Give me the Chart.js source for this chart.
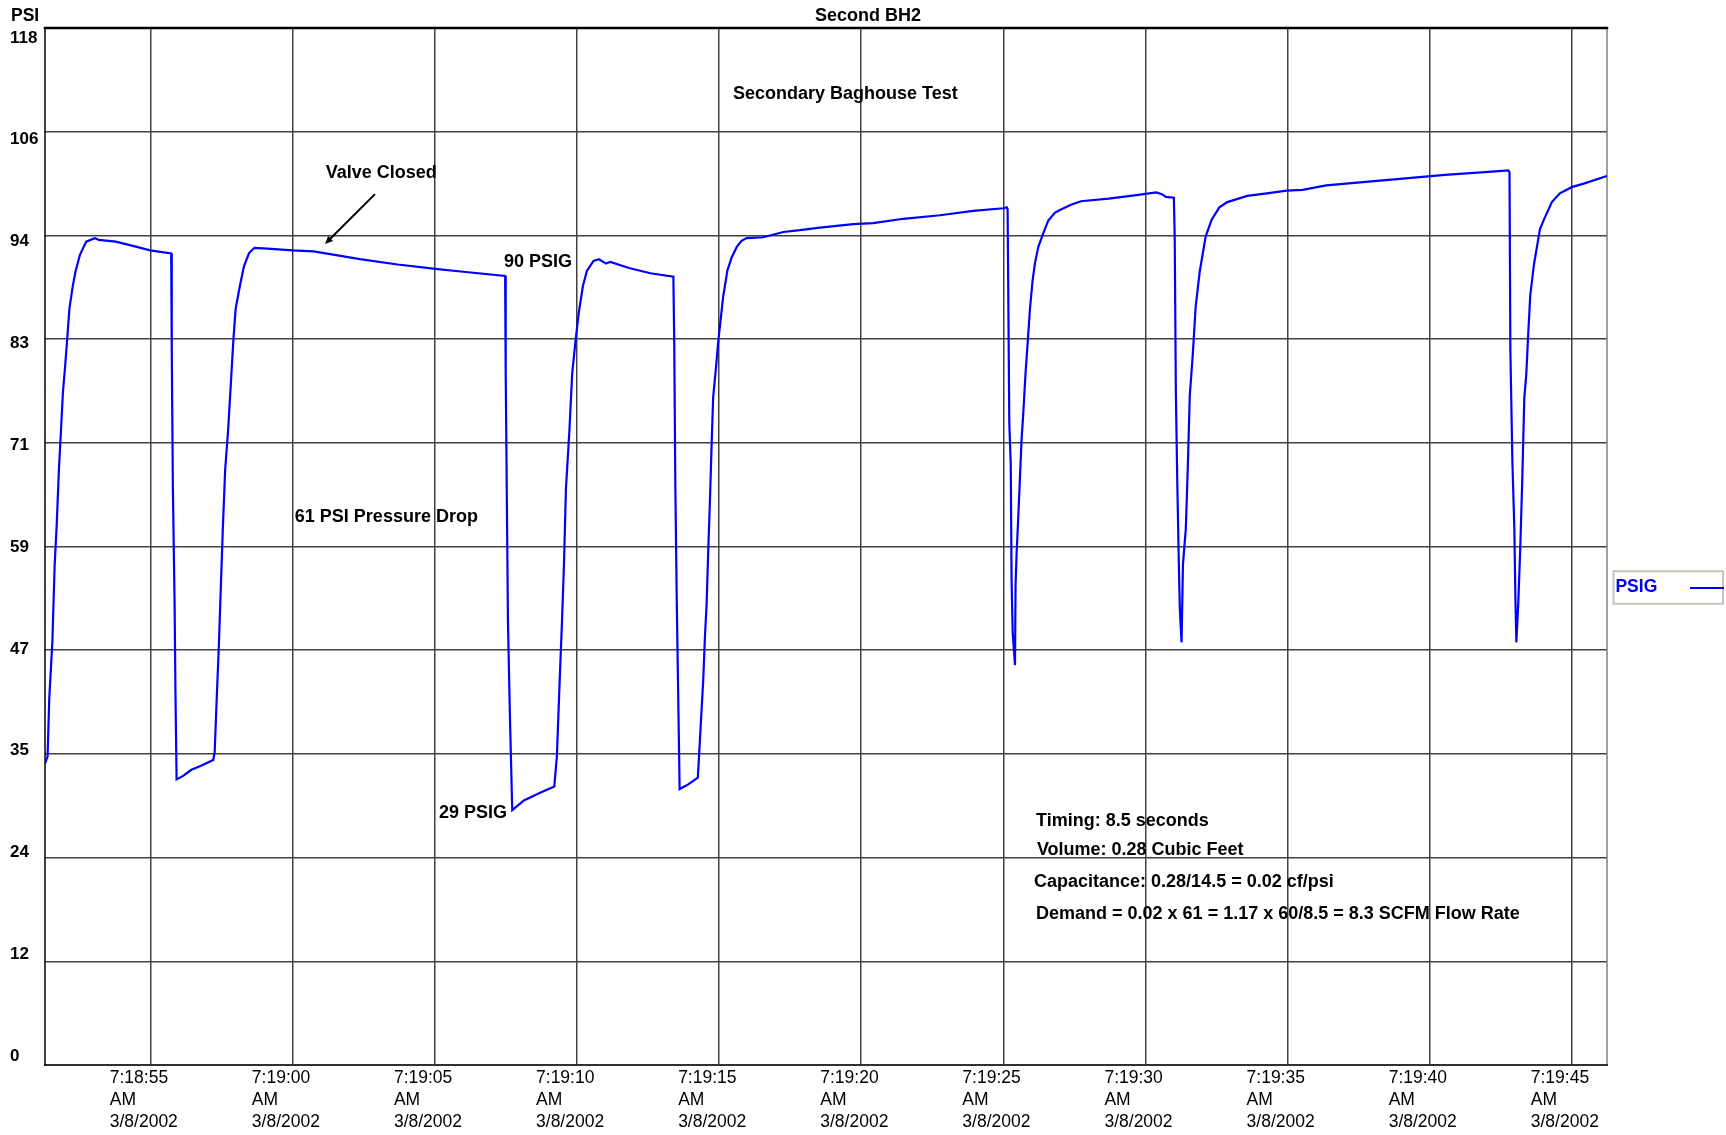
<!DOCTYPE html>
<html>
<head>
<meta charset="utf-8">
<script src="https://cdn.jsdelivr.net/npm/chart.js@4/dist/chart.umd.min.js"></script>
<style>
  html, body { margin: 0; padding: 0; background: #ffffff; }
  #wrap { width: 1726px; height: 1135px; }
</style>
</head>
<body>
<div id="wrap"><canvas id="c" width="1726" height="1135"></canvas></div>
<script>
// ---------------- data (seconds after 7:18:00 AM, 3/8/2002) ----------------
const seriesName = 'PSIG';
const timeSec = [
  51.28, 51.37, 51.43, 51.54, 51.62, 51.69, 51.77, 51.84, 51.91, 51.99, 52.07, 52.14, 52.26, 52.36, 52.51, 52.73,
  53.03, 53.17, 53.77, 54.51, 54.98, 55.72, 55.74, 55.78, 55.84, 55.87, 55.91, 56.14, 56.43, 56.73, 57.20, 57.25,
  57.32, 57.40, 57.47, 57.54, 57.62, 57.72, 57.84, 57.91, 57.99, 58.14, 58.28, 58.46, 58.65, 59.10, 59.99, 60.73,
  61.47, 62.36, 63.69, 65.02, 65.91, 67.47, 67.49, 67.57, 67.64, 67.72, 68.13, 68.72, 69.20, 69.29, 69.39, 69.47,
  69.54, 69.61, 69.73, 69.83, 69.94, 70.06, 70.21, 70.35, 70.58, 70.77, 71.02, 71.17, 71.83, 72.58, 73.39, 73.42,
  73.46, 73.51, 73.61, 73.90, 74.25, 74.44, 74.50, 74.56, 74.62, 74.68, 74.74, 74.79, 74.89, 74.97, 75.05, 75.14,
  75.29, 75.44, 75.62, 75.79, 75.97, 76.55, 77.26, 77.84, 78.55, 79.72, 80.42, 81.48, 82.77, 83.94, 85.00, 85.12,
  85.15, 85.17, 85.21, 85.26, 85.29, 85.33, 85.41, 85.43, 85.47, 85.52, 85.58, 85.64, 85.70, 85.78, 85.86, 85.94,
  86.03, 86.11, 86.23, 86.40, 86.58, 86.82, 86.99, 87.38, 87.73, 88.71, 89.68, 90.38, 90.58, 90.72, 91.00, 91.03,
  91.07, 91.12, 91.17, 91.21, 91.27, 91.32, 91.42, 91.49, 91.56, 91.66, 91.77, 91.91, 92.12, 92.33, 92.60, 92.88,
  93.58, 94.27, 94.97, 95.53, 96.36, 97.75, 99.15, 100.54, 101.94, 102.77, 102.81, 102.84, 102.91, 102.98, 103.02, 103.05,
  103.12, 103.19, 103.26, 103.33, 103.40, 103.47, 103.54, 103.67, 103.88, 104.02, 104.30, 104.58, 105.00, 105.42, 106.18, 106.24
];
const psig = [
  34.3, 35.1, 41.7, 48.2, 56.9, 61.3, 67.8, 72.1, 76.5, 79.6, 83.0, 86.1, 88.7, 90.4, 92.2, 93.7,
  94.1, 93.9, 93.7, 93.1, 92.7, 92.35, 81.3, 65.6, 52.5, 42.5, 32.5, 32.9, 33.6, 34.0, 34.7, 35.6,
  41.5, 48.0, 54.7, 61.3, 67.8, 72.1, 78.7, 82.6, 86.1, 88.7, 90.9, 92.4, 93.0, 92.9, 92.7, 92.6,
  92.2, 91.7, 91.1, 90.6, 90.3, 89.8, 78.7, 50.4, 39.5, 29.0, 30.1, 31.0, 31.7, 35.1, 43.8, 50.4,
  56.9, 65.6, 72.1, 78.7, 82.2, 85.6, 88.7, 90.4, 91.5, 91.7, 91.2, 91.4, 90.7, 90.1, 89.7, 82.2,
  65.6, 52.5, 31.4, 31.9, 32.7, 43.8, 48.7, 52.5, 58.9, 64.6, 71.1, 76.0, 79.4, 82.4, 84.7, 87.4,
  90.4, 91.9, 93.1, 93.8, 94.1, 94.2, 94.8, 95.0, 95.3, 95.7, 95.8, 96.3, 96.7, 97.2, 97.5, 97.6,
  97.4, 89.3, 73.0, 68.4, 55.1, 49.1, 45.5, 54.6, 58.5, 62.0, 66.5, 71.1, 74.1, 78.7, 82.4, 86.2,
  89.3, 91.2, 93.1, 94.6, 96.1, 97.0, 97.3, 97.9, 98.3, 98.6, 99.0, 99.3, 99.1, 98.8, 98.7, 94.1,
  76.6, 66.4, 57.8, 51.9, 48.1, 57.0, 61.0, 68.0, 76.2, 80.6, 86.4, 90.3, 94.3, 96.2, 97.6, 98.2,
  98.9, 99.2, 99.5, 99.6, 100.1, 100.5, 100.9, 101.3, 101.6, 101.8, 101.6, 81.3, 68.8, 61.0, 52.7, 48.1,
  52.7, 59.0, 66.8, 75.9, 78.6, 83.3, 87.6, 91.1, 95.1, 96.2, 98.2, 99.2, 99.9, 100.3, 101.1, 101.2
];

// ---------------- axes / ticks ----------------
const xMin = 51.28, xMax = 106.24;
const xTickValues = [55, 60, 65, 70, 75, 80, 85, 90, 95, 100, 105];
const xTickTimes = ['7:18:55', '7:19:00', '7:19:05', '7:19:10', '7:19:15', '7:19:20', '7:19:25', '7:19:30', '7:19:35', '7:19:40', '7:19:45'];
const xTickMeridiem = 'AM';
const xTickDate = '3/8/2002';
const yTickValues = [0, 11.8, 23.6, 35.4, 47.2, 59, 70.8, 82.6, 94.4, 106.2, 118];
const yTickLabels = ['0', '12', '24', '35', '47', '59', '71', '83', '94', '106', '118'];

// ---------------- texts ----------------
const chartTitle = 'Second BH2';
const yAxisTitle = 'PSI';
const notes = [
  { text: 'Secondary Baghouse Test', x: 75.49, y: 110.55 },
  { text: 'Valve Closed', x: 61.16, y: 101.5 },
  { text: '90 PSIG', x: 67.43, y: 91.37 },
  { text: '61 PSI Pressure Drop', x: 60.07, y: 62.36 },
  { text: '29 PSIG', x: 65.14, y: 28.73 },
  { text: 'Timing: 8.5 seconds', x: 86.15, y: 27.74 },
  { text: 'Volume: 0.28 Cubic Feet', x: 86.18, y: 24.52 },
  { text: 'Capacitance: 0.28/14.5 = 0.02 cf/psi', x: 86.08, y: 20.77 },
  { text: 'Demand = 0.02 x 61 = 1.17 x 60/8.5 = 8.3 SCFM Flow Rate', x: 86.15, y: 17.18 }
];
const valveArrow = { from: { x: 62.89, y: 99.11 }, to: { x: 61.13, y: 93.42 } };

// ---------------- styling ----------------
const FONT = "'Liberation Sans', Arial, Helvetica, sans-serif";
const BLUE = '#0000ff';
const GRID = '#404040';
Chart.defaults.font.family = FONT;
Chart.defaults.color = '#000000';

// legend line symbol (text first, then the line)
const legendLine = document.createElement('canvas');
legendLine.width = 58; legendLine.height = 2;
(function () { const g = legendLine.getContext('2d'); g.fillStyle = BLUE; g.fillRect(24, 0, 34, 2); })();

const decor = {
  id: 'decor',
  beforeDraw(chart) {
    const lg = chart.legend;
    const hb = lg && lg.legendHitBoxes && lg.legendHitBoxes[0];
    if (!hb) return;
    const ctx = chart.ctx;
    ctx.save();
    ctx.strokeStyle = '#c8c4bc';
    ctx.lineWidth = 2;
    ctx.strokeRect(hb.left - 2, hb.top - 7.5, hb.width + 1, hb.height + 15);
    ctx.restore();
  },
  beforeDatasetsDraw(chart) {
    const { ctx, chartArea: a } = chart;
    ctx.save();
    ctx.lineCap = 'square';
    // right
    ctx.strokeStyle = '#808080'; ctx.lineWidth = 1.5;
    ctx.beginPath(); ctx.moveTo(a.right, a.top); ctx.lineTo(a.right, a.bottom); ctx.stroke();
    // bottom
    ctx.strokeStyle = '#303030'; ctx.lineWidth = 2;
    ctx.beginPath(); ctx.moveTo(a.left, a.bottom); ctx.lineTo(a.right, a.bottom); ctx.stroke();
    // left
    ctx.strokeStyle = '#000000'; ctx.lineWidth = 1.5;
    ctx.beginPath(); ctx.moveTo(a.left, a.top); ctx.lineTo(a.left, a.bottom); ctx.stroke();
    // top
    ctx.lineWidth = 2.5;
    ctx.beginPath(); ctx.moveTo(a.left, a.top); ctx.lineTo(a.right, a.top); ctx.stroke();
    ctx.restore();
  },
  afterDatasetsDraw(chart) {
    const { ctx } = chart;
    const sx = chart.scales.x, sy = chart.scales.y;
    ctx.save();
    ctx.fillStyle = '#000000';
    ctx.font = 'bold 18px ' + FONT;
    ctx.textAlign = 'left';
    ctx.textBaseline = 'middle';
    notes.forEach(n => ctx.fillText(n.text, sx.getPixelForValue(n.x), sy.getPixelForValue(n.y)));
    // arrow
    const x1 = sx.getPixelForValue(valveArrow.from.x), y1 = sy.getPixelForValue(valveArrow.from.y);
    const x2 = sx.getPixelForValue(valveArrow.to.x), y2 = sy.getPixelForValue(valveArrow.to.y);
    const ang = Math.atan2(y2 - y1, x2 - x1);
    ctx.strokeStyle = '#000000'; ctx.lineWidth = 2;
    ctx.beginPath(); ctx.moveTo(x1, y1); ctx.lineTo(x2 - 5 * Math.cos(ang), y2 - 5 * Math.sin(ang)); ctx.stroke();
    ctx.beginPath();
    ctx.moveTo(x2, y2);
    ctx.lineTo(x2 - 8 * Math.cos(ang) + 3.5 * Math.sin(ang), y2 - 8 * Math.sin(ang) - 3.5 * Math.cos(ang));
    ctx.lineTo(x2 - 8 * Math.cos(ang) - 3.5 * Math.sin(ang), y2 - 8 * Math.sin(ang) + 3.5 * Math.cos(ang));
    ctx.closePath(); ctx.fill();
    // y unit label
    ctx.font = 'bold 17.5px ' + FONT;
    ctx.fillText(yAxisTitle, 11, 16);
    ctx.restore();
  }
};

new Chart(document.getElementById('c'), {
  type: 'line',
  data: {
    datasets: [{
      label: seriesName,
      data: timeSec.map((t, i) => ({ x: t, y: psig[i] })),
      borderColor: BLUE,
      backgroundColor: BLUE,
      borderWidth: 2.2,
      pointRadius: 0,
      tension: 0,
      fill: false,
      xAxisID: 'x',
      yAxisID: 'y'
    }]
  },
  options: {
    responsive: false,
    animation: false,
    events: [],
    devicePixelRatio: 1,
    layout: { padding: { left: 10, right: 0, top: 0, bottom: 0 } },
    plugins: {
      title: {
        display: true, text: chartTitle, color: '#000000',
        font: { size: 18, weight: 'bold' }, padding: { top: 5, bottom: 1.5 }
      },
      legend: {
        display: true, position: 'right', align: 'center', rtl: true, maxWidth: 119,
        title: { display: true, text: '', font: { size: 1, lineHeight: 1 }, padding: { top: 39, bottom: 0 } },
        labels: {
          usePointStyle: true, pointStyle: legendLine, pointStyleWidth: 58, padding: 2,
          color: BLUE, font: { size: 17.5, weight: 'bold' }
        }
      },
      tooltip: { enabled: false }
    },
    scales: {
      x: {
        type: 'linear', position: 'bottom', min: xMin, max: xMax,
        afterBuildTicks: s => { s.ticks = xTickValues.map(v => ({ value: v })); },
        afterFit: s => { s.height = 70; },
        grid: { color: GRID, lineWidth: 1.5, drawTicks: false },
        border: { display: false },
        ticks: {
          autoSkip: false, maxRotation: 0, minRotation: 0, align: 'start', labelOffset: -41, padding: 2,
          color: '#000000', font: { size: 17.5, lineHeight: 1.25 },
          callback: (v, i) => [xTickTimes[i], xTickMeridiem, xTickDate]
        }
      },
      y: {
        type: 'linear', position: 'left', weight: 0, min: 0, max: 118,
        afterBuildTicks: s => { s.ticks = yTickValues.map(v => ({ value: v })); },
        afterFit: s => { s.width = 0; },
        grid: { color: GRID, lineWidth: 1.5, drawTicks: false },
        border: { display: false },
        ticks: { display: false }
      },
      yl: {
        type: 'linear', axis: 'y', position: 'left', weight: 1, min: -1.03, max: 119.14,
        afterBuildTicks: s => { s.ticks = yTickValues.map(v => ({ value: v })); },
        afterFit: s => { s.width = 35; },
        grid: { display: false, drawTicks: false },
        border: { display: false },
        ticks: {
          crossAlign: 'far', padding: 0, color: '#000000', font: { size: 17, weight: 'bold' },
          callback: (v, i) => yTickLabels[i]
        }
      }
    }
  },
  plugins: [decor]
});
</script>
</body>
</html>
